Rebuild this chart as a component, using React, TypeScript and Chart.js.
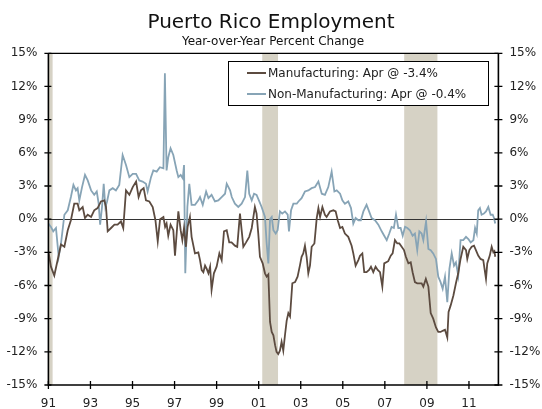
import React, { useEffect, useRef } from "react";
import { Chart, registerables } from "chart.js";

Chart.register(...registerables);

const titleText = "Puerto Rico Employment";
const subtitleText = "Year-over-Year Percent Change";
const mfgLabel = "Manufacturing: Apr @ -3.4%";
const nonMfgLabel = "Non-Manufacturing: Apr @ -0.4%";

const xTickYears = [1991, 1993, 1995, 1997, 1999, 2001, 2003, 2005, 2007, 2009, 2011];
const recessionStart = [1990.58, 2001.17, 2007.92];
const recessionEnd = [1991.2, 2001.92, 2009.5];

const mfgDates = [
  1991.0, 1991.12, 1991.28, 1991.44, 1991.6, 1991.76, 1991.92, 1992.07, 1992.23, 1992.39, 1992.47, 1992.63,
  1992.74, 1992.87, 1993.03, 1993.18, 1993.34, 1993.5, 1993.66, 1993.74, 1993.82, 1993.98, 1994.14, 1994.29,
  1994.45, 1994.56, 1994.69, 1994.85, 1995.01, 1995.17, 1995.29, 1995.4, 1995.53, 1995.64, 1995.8, 1995.96,
  1996.09, 1996.2, 1996.31, 1996.47, 1996.55, 1996.62, 1996.7, 1996.81, 1996.94, 1997.02, 1997.1, 1997.18,
  1997.29, 1997.37, 1997.45, 1997.54, 1997.62, 1997.73, 1997.81, 1997.97, 1998.13, 1998.21, 1998.29, 1998.37,
  1998.45, 1998.53, 1998.61, 1998.69, 1998.76, 1998.87, 1999.0, 1999.13, 1999.24, 1999.35, 1999.48, 1999.6,
  1999.71, 1999.87, 1999.98, 2000.11, 2000.19, 2000.27, 2000.4, 2000.55, 2000.67, 2000.82, 2000.9, 2000.98,
  2001.06, 2001.19, 2001.3, 2001.38, 2001.46, 2001.54, 2001.62, 2001.7, 2001.78, 2001.85, 2001.93, 2002.01,
  2002.09, 2002.17, 2002.25, 2002.33, 2002.41, 2002.49, 2002.6, 2002.73, 2002.85, 2002.96, 2003.04, 2003.12,
  2003.2, 2003.28, 2003.36, 2003.44, 2003.52, 2003.65, 2003.76, 2003.84, 2003.92, 2004.03, 2004.15, 2004.23,
  2004.39, 2004.55, 2004.66, 2004.76, 2004.87, 2004.98, 2005.1, 2005.26, 2005.42, 2005.5, 2005.61, 2005.74,
  2005.82, 2005.93, 2006.02, 2006.13, 2006.25, 2006.34, 2006.45, 2006.56, 2006.66, 2006.77, 2006.88, 2006.97,
  2007.16, 2007.28, 2007.37, 2007.48, 2007.59, 2007.69, 2007.8, 2007.91, 2008.0, 2008.12, 2008.23, 2008.32,
  2008.43, 2008.54, 2008.64, 2008.75, 2008.83, 2008.95, 2009.07, 2009.18, 2009.3, 2009.43, 2009.54, 2009.65,
  2009.75, 2009.86, 2009.97, 2010.03, 2010.13, 2010.26, 2010.38, 2010.49, 2010.6, 2010.73, 2010.86, 2010.92,
  2011.02, 2011.13, 2011.24, 2011.33, 2011.44, 2011.55, 2011.68, 2011.81, 2011.87, 2011.99, 2012.08, 2012.16,
  2012.21, 2012.25,
];
const mfgValues = [
  -2.9, -4.3, -5.1, -3.7, -2.3, -2.5, -1.0, -0.1, 1.4, 1.4, 0.8, 1.1,
  0.1, 0.4, 0.2, 0.8, 1.0, 1.6, 1.7, 1.1, -1.1, -0.8, -0.5, -0.5,
  -0.2, -0.8, 2.6, 2.2, 2.9, 3.4, 2.0, 2.6, 2.8, 1.7, 1.6, 1.1,
  -0.1, -2.0, 0.0, 0.2, -0.7, -0.4, -1.5, -0.5, -1.0, -3.3, -1.3, 0.7,
  -1.0, -1.9, -0.8, -2.5, -0.7, 0.2, -1.6, -3.1, -3.0, -3.7, -4.6, -4.8,
  -4.2, -4.5, -4.9, -4.3, -6.4, -4.9, -4.3, -3.1, -3.7, -1.1, -1.0, -2.1,
  -2.1, -2.4, -2.5, 0.5, -1.0, -2.5, -2.1, -1.6, -0.8, 1.1, 0.5, -1.3,
  -3.4, -4.0, -4.9, -5.2, -5.0, -9.3, -10.2, -10.5, -11.4, -12.0, -12.2, -11.9,
  -11.1, -11.9, -10.5, -9.2, -8.5, -8.8, -5.8, -5.7, -5.2, -4.2, -3.4, -3.1,
  -2.4, -3.4, -4.9, -4.2, -2.5, -2.2, 0.1, 1.0, 0.2, 1.1, 0.4, 0.2,
  0.7, 0.8, 0.7, -0.1, -0.8, -0.7, -1.3, -1.6, -2.4, -3.1, -4.2, -3.7,
  -3.3, -3.1, -4.8, -4.8, -4.6, -4.3, -4.8, -4.3, -4.6, -4.8, -6.1, -4.0,
  -3.8, -3.3, -3.1, -1.9, -2.2, -2.2, -2.5, -2.8, -3.4, -4.0, -3.9, -4.8,
  -5.7, -5.8, -5.8, -5.8, -6.1, -5.4, -6.1, -8.5, -9.0, -9.8, -10.2, -10.2,
  -10.1, -10.0, -10.7, -8.4, -7.8, -6.9, -5.8, -4.9, -3.6, -2.5, -2.8, -3.6,
  -2.8, -2.5, -2.4, -2.8, -3.3, -3.6, -3.7, -5.4, -4.0, -3.3, -2.5, -3.0,
  -2.9, -3.4,
];

const nonMfgDates = [
  1991.0, 1991.12, 1991.23, 1991.36, 1991.49, 1991.6, 1991.76, 1991.92, 1992.07, 1992.19, 1992.31, 1992.39,
  1992.47, 1992.6, 1992.74, 1992.87, 1993.03, 1993.18, 1993.3, 1993.39, 1993.46, 1993.55, 1993.63, 1993.71,
  1993.79, 1993.9, 1994.06, 1994.21, 1994.37, 1994.53, 1994.69, 1994.85, 1995.01, 1995.17, 1995.32, 1995.48,
  1995.64, 1995.72, 1995.88, 1995.99, 1996.15, 1996.3, 1996.47, 1996.54, 1996.62, 1996.7, 1996.81, 1996.94,
  1997.1, 1997.18, 1997.29, 1997.39, 1997.45, 1997.51, 1997.61, 1997.7, 1997.81, 1997.97, 1998.13, 1998.21,
  1998.34, 1998.5, 1998.61, 1998.76, 1998.92, 1999.08, 1999.24, 1999.4, 1999.48, 1999.64, 1999.72, 1999.87,
  2000.03, 2000.19, 2000.35, 2000.46, 2000.55, 2000.67, 2000.78, 2000.9, 2001.03, 2001.14, 2001.3, 2001.38,
  2001.46, 2001.54, 2001.62, 2001.7, 2001.81, 2001.9, 2002.01, 2002.12, 2002.25, 2002.38, 2002.44, 2002.54,
  2002.65, 2002.81, 2002.89, 2003.04, 2003.2, 2003.36, 2003.52, 2003.68, 2003.84, 2004.0, 2004.15, 2004.31,
  2004.47, 2004.6, 2004.71, 2004.87, 2004.98, 2005.1, 2005.26, 2005.39, 2005.5, 2005.61, 2005.74, 2005.86,
  2005.98, 2006.13, 2006.25, 2006.37, 2006.53, 2006.69, 2006.85, 2006.97, 2007.09, 2007.21, 2007.32, 2007.43,
  2007.53, 2007.64, 2007.75, 2007.85, 2007.96, 2008.07, 2008.19, 2008.32, 2008.43, 2008.54, 2008.64, 2008.75,
  2008.83, 2008.96, 2009.07, 2009.18, 2009.3, 2009.43, 2009.54, 2009.65, 2009.75, 2009.86, 2009.97, 2010.07,
  2010.18, 2010.29, 2010.38, 2010.49, 2010.6, 2010.73, 2010.86, 2010.97, 2011.08, 2011.21, 2011.29, 2011.37,
  2011.44, 2011.52, 2011.6, 2011.71, 2011.81, 2011.92, 2012.03, 2012.13, 2012.19, 2012.25,
];
const nonMfgValues = [
  -0.4, -0.7, -1.1, -0.8, -3.4, -2.2, 0.4, 0.8, 2.0, 3.1, 2.6, 2.8,
  1.7, 2.9, 4.0, 3.5, 2.6, 2.2, 2.5, 1.4, -0.5, 1.1, 3.2, 1.1,
  1.6, 2.6, 2.8, 2.6, 3.1, 5.8, 4.9, 3.8, 4.1, 4.1, 3.5, 3.4,
  3.2, 2.5, 3.8, 4.4, 4.3, 4.7, 4.6, 13.2, 4.4, 5.6, 6.4, 5.8,
  4.4, 3.8, 4.0, 3.7, 4.9, -4.9, 1.1, 3.2, 1.3, 1.3, 1.7, 2.0,
  1.3, 2.5, 1.9, 2.2, 1.6, 1.7, 2.0, 2.3, 3.2, 2.6, 2.0, 1.4,
  1.1, 1.4, 2.0, 4.4, 2.3, 1.7, 2.3, 2.2, 1.6, 1.1, 0.2, -2.2,
  -4.0, 0.0, 0.2, -1.0, -1.3, -1.0, 0.7, 0.5, 0.7, 0.4, -1.1, 0.8,
  1.4, 1.4, 1.6, 1.9, 2.5, 2.6, 2.8, 2.9, 3.4, 2.3, 2.2, 2.9,
  4.3, 2.5, 2.6, 2.3, 1.7, 1.4, 1.6, 1.0, -0.4, 0.1, -0.1, -0.1,
  0.7, 1.3, 0.7, 0.1, -0.1, -0.5, -1.1, -1.5, -1.9, -1.3, -0.7, -0.8,
  0.4, -0.8, -0.8, -1.5, -0.7, -0.8, -1.0, -1.5, -1.3, -2.8, -1.1, -1.3,
  -1.9, -0.2, -2.7, -2.8, -3.1, -3.6, -5.2, -5.7, -6.3, -5.2, -7.5, -4.5,
  -3.1, -4.2, -3.9, -5.1, -1.9, -1.9, -1.6, -1.8, -2.1, -1.9, -0.8, -1.3,
  0.8, 1.0, 0.4, 0.5, 0.7, 1.1, 0.4, 0.4, 0.1, -0.4,
];

const W = 542;
const H = 409;
const PLOT_LEFT = 48.4;
const PLOT_RIGHT = 498.4;
const PLOT_TOP = 53.3;
const PLOT_BOTTOM = 385;
const FONT = "'DejaVu Sans', Verdana, sans-serif";
const TEXT = "#222222";
const MFG_COLOR = "#5c4b40";
const NONMFG_COLOR = "#87a4b6";

const decor = {
  id: "decor",
  beforeDatasetsDraw(chart: any) {
    const { ctx, chartArea: a, scales } = chart;
    const x = scales.x;
    const y = scales.y;
    ctx.save();
    ctx.fillStyle = "#d6d2c5";
    recessionStart.forEach((s, i) => {
      const x0 = Math.max(a.left, x.getPixelForValue(s));
      const x1 = Math.min(a.right, x.getPixelForValue(recessionEnd[i]));
      if (x1 > x0) ctx.fillRect(x0, a.top, x1 - x0, a.bottom - a.top);
    });
    const y0 = Math.round(y.getPixelForValue(0)) + 0.5;
    ctx.strokeStyle = "#333333";
    ctx.lineWidth = 1;
    ctx.beginPath();
    ctx.moveTo(a.left, y0);
    ctx.lineTo(a.right, y0);
    ctx.stroke();
    ctx.restore();
  },
  afterDraw(chart: any) {
    const { ctx, chartArea: a, scales } = chart;
    const x = scales.x;
    const y = scales.y;
    ctx.save();
    // frame
    ctx.strokeStyle = "#000000";
    ctx.lineWidth = 1.2;
    ctx.beginPath();
    ctx.moveTo(a.left, a.top);
    ctx.lineTo(a.right, a.top);
    ctx.stroke();
    ctx.lineWidth = 1.6;
    ctx.beginPath();
    ctx.moveTo(a.left, a.top);
    ctx.lineTo(a.left, a.bottom);
    ctx.lineTo(a.right, a.bottom);
    ctx.lineTo(a.right, a.top);
    ctx.stroke();
    // ticks
    ctx.lineWidth = 1.3;
    ctx.beginPath();
    xTickYears.forEach((v) => {
      const px = x.getPixelForValue(v);
      ctx.moveTo(px, a.bottom - 4);
      ctx.lineTo(px, a.bottom + 4);
    });
    for (let v = -15; v <= 15; v += 3) {
      const py = y.getPixelForValue(v);
      ctx.moveTo(a.left - 4, py);
      ctx.lineTo(a.left + 3, py);
      ctx.moveTo(a.right - 4, py);
      ctx.lineTo(a.right + 4, py);
    }
    ctx.stroke();
    // legend
    const lx = 228.5;
    const ly = 61.5;
    const lw = 260;
    const lh = 44;
    ctx.fillStyle = "#ffffff";
    ctx.fillRect(lx, ly, lw, lh);
    ctx.strokeStyle = "#000000";
    ctx.lineWidth = 1;
    ctx.strokeRect(lx, ly, lw, lh);
    const rows = [
      { label: mfgLabel, color: MFG_COLOR, yy: 73 },
      { label: nonMfgLabel, color: NONMFG_COLOR, yy: 94 },
    ];
    ctx.font = `12px ${FONT}`;
    ctx.textBaseline = "middle";
    ctx.textAlign = "left";
    rows.forEach((r) => {
      ctx.strokeStyle = r.color;
      ctx.lineWidth = 2;
      ctx.beginPath();
      ctx.moveTo(247, r.yy);
      ctx.lineTo(266, r.yy);
      ctx.stroke();
      ctx.fillStyle = TEXT;
      ctx.fillText(r.label, 268, r.yy + 0.5);
    });
    // titles
    ctx.textAlign = "center";
    ctx.textBaseline = "alphabetic";
    ctx.fillStyle = "#111111";
    ctx.font = `20px ${FONT}`;
    ctx.fillText(titleText, 271, 28);
    ctx.font = `12px ${FONT}`;
    ctx.fillText(subtitleText, 273, 45);
    ctx.restore();
  },
};

export default function App() {
  const ref = useRef<HTMLCanvasElement | null>(null);
  useEffect(() => {
    if (!ref.current) return;
    const yTickCb = (v: any) => `${v}%`;
    const chart = new Chart(ref.current, {
      type: "line",
      data: {
        datasets: [
          {
            label: mfgLabel,
            data: mfgDates.map((d, i) => ({ x: d, y: mfgValues[i] })),
            borderColor: MFG_COLOR,
            borderWidth: 1.8,
            pointRadius: 0,
            tension: 0,
            fill: false,
          },
          {
            label: nonMfgLabel,
            data: nonMfgDates.map((d, i) => ({ x: d, y: nonMfgValues[i] })),
            borderColor: NONMFG_COLOR,
            borderWidth: 1.8,
            pointRadius: 0,
            tension: 0,
            fill: false,
          },
        ],
      },
      options: {
        responsive: false,
        animation: false,
        layout: { padding: { top: PLOT_TOP, left: 0, right: 0, bottom: 0 } },
        plugins: {
          legend: { display: false },
          tooltip: { enabled: false },
          title: { display: false },
        },
        scales: {
          x: {
            type: "linear",
            min: 1991,
            max: 2012.4,
            grid: { display: false, drawTicks: false },
            border: { display: false },
            afterBuildTicks: (scale: any) => {
              scale.ticks = xTickYears.map((v) => ({ value: v }));
            },
            afterFit: (scale: any) => {
              scale.height = H - PLOT_BOTTOM;
            },
            ticks: {
              autoSkip: false,
              maxRotation: 0,
              padding: 12,
              color: TEXT,
              font: { family: FONT, size: 12 },
              callback: (v: any) => String(Math.round(v) % 100).padStart(2, "0"),
            },
          },
          y: {
            position: "left",
            min: -15,
            max: 15,
            grid: { display: false, drawTicks: false },
            border: { display: false },
            afterFit: (scale: any) => {
              scale.width = PLOT_LEFT;
            },
            ticks: {
              stepSize: 3,
              padding: 11,
              color: TEXT,
              font: { family: FONT, size: 12 },
              callback: yTickCb,
            },
          },
          y2: {
            position: "right",
            min: -15,
            max: 15,
            grid: { display: false, drawTicks: false },
            border: { display: false },
            afterFit: (scale: any) => {
              scale.width = W - PLOT_RIGHT;
            },
            ticks: {
              stepSize: 3,
              padding: 11,
              color: TEXT,
              font: { family: FONT, size: 12 },
              callback: yTickCb,
            },
          },
        },
      },
      plugins: [decor],
    } as any);
    return () => chart.destroy();
  }, []);
  return (
    <div style={{ position: "fixed", left: 0, top: 0, width: W, height: H, background: "#ffffff" }}>
      <canvas ref={ref} width={W} height={H} style={{ display: "block", width: W, height: H }} />
    </div>
  );
}
